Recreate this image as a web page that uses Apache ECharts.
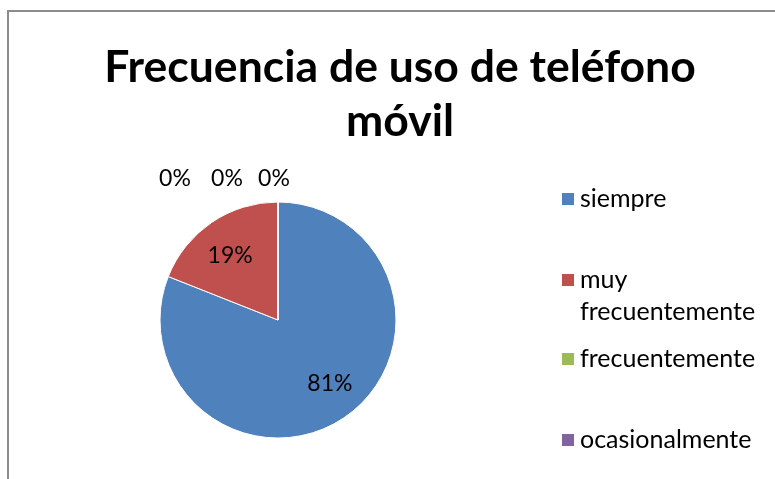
<!DOCTYPE html>
<html>
<head>
<meta charset="utf-8">
<script src="https://cdn.jsdelivr.net/npm/echarts@6/dist/echarts.min.js"></script>
<style>
  html, body { margin: 0; padding: 0; background: #fff; }
  #chart { width: 775px; height: 479px; }
</style>
</head>
<body>
<div id="chart"></div>
<script>
const categories = ['siempre', 'muy frecuentemente', 'frecuentemente', 'ocasionalmente', 'nunca']
const values = [81, 19, 0, 0, 0]
const colors = ['#4F81BD', '#C0504D', '#9BBB59', '#8064A2', '#4BACC6']
// legend rows (icon centre y)
const legendTops = [199, 280, 359, 440]
// label nudges from the default inside position
const labelShift = [[17, 12], [-13, -13], [-103, -79], [-51, -79], [-4, -79]]

const chart = echarts.init(document.getElementById('chart'))

const pieData = []
for (let i = 0; i < categories.length; i++) {
  pieData.push({ name: categories[i], value: values[i], itemStyle: { color: colors[i] } })
}

const LH = 32
const legends = []
for (let i = 0; i < legendTops.length; i++) {
  const twoLine = categories[i] === 'muy frecuentemente'
  legends.push({
    data: [categories[i]],
    left: 560,
    // two-line item gets a blank first line so the icon sits on 'muy'
    top: legendTops[i] - (twoLine ? LH * 1.5 : LH / 2),
    itemWidth: 14,
    itemHeight: 14,
    itemGap: 0,
    padding: 0,
    icon: 'rect',
    selectedMode: false,
    formatter: function (name) {
      return twoLine ? ' \nmuy\nfrecuentemente' : name
    },
    textStyle: {
      fontFamily: 'Lato',
      fontSize: 25,
      color: '#000',
      lineHeight: LH
    }
  })
}

const option = {
  animation: false,
  backgroundColor: '#fff',
  graphic: [{
    type: 'rect',
    shape: { x: 8, y: 11, width: 800, height: 500 },
    style: { fill: 'none', stroke: '#8c8c8c', lineWidth: 2 },
    silent: true
  }],
  title: {
    text: 'Frecuencia de uso de teléfono\nmóvil',
    left: 400,
    textAlign: 'center',
    top: 41,
    padding: 0,
    textStyle: {
      fontFamily: 'Lato',
      fontWeight: 'bold',
      fontSize: 44.5,
      lineHeight: 54,
      color: '#000'
    }
  },
  legend: legends,
  series: [{
    type: 'pie',
    center: [278, 320],
    radius: 118,
    startAngle: 90,
    clockwise: true,
    avoidLabelOverlap: false,
    minShowLabelAngle: -1,
    itemStyle: { borderColor: '#fff', borderWidth: 1 },
    label: {
      show: true,
      position: 'inside',
      formatter: function (p) { return Math.round(p.percent) + '%' },
      fontFamily: 'Lato',
      fontSize: 23,
      color: '#000'
    },
    labelLine: { show: false },
    labelLayout: function (p) {
      const s = labelShift[p.dataIndex]
      return { dx: s[0], dy: s[1] }
    },
    emphasis: { disabled: true },
    data: pieData
  }]
}
chart.setOption(option)
</script>
</body>
</html>
